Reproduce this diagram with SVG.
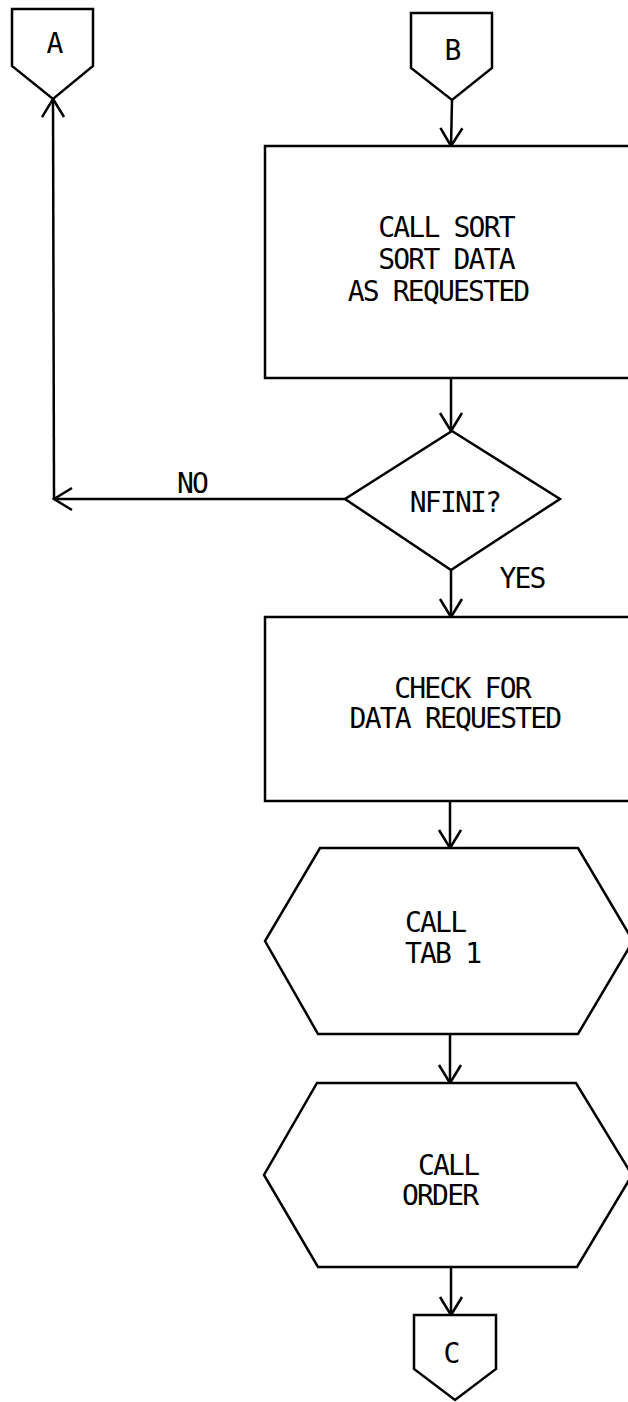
<svg xmlns="http://www.w3.org/2000/svg" width="628" height="1402" viewBox="0 0 628 1402">
<style>
.s{fill:#fff;stroke:#000;stroke-width:2.5;stroke-linejoin:miter}
.c{fill:none;stroke:#000;stroke-width:2.5}
text{font-family:"DejaVu Sans Mono","Liberation Mono",monospace;font-size:28px;letter-spacing:-1.8px;fill:#000}
.m{text-anchor:middle}
</style>
<defs>
<marker id="ah" markerUnits="userSpaceOnUse" markerWidth="24" markerHeight="28" viewBox="-20 -14 24 28" refX="0" refY="0" orient="auto" overflow="visible">
<path d="M-18,-11 L0,0 L-18,11" fill="none" stroke="#000" stroke-width="2.5"/>
</marker>
</defs>
<rect width="628" height="1402" fill="#fff"/>
<g id="connectors">
<path class="c" d="M452,100 L451,146" marker-end="url(#ah)"/>
<path class="c" d="M451,378 L451,431" marker-end="url(#ah)"/>
<path class="c" d="M345,499 L54,499" marker-end="url(#ah)"/>
<path class="c" d="M54,499 L53,99" marker-end="url(#ah)"/>
<path class="c" d="M451,570 L451,617" marker-end="url(#ah)"/>
<path class="c" d="M450,801 L450,848" marker-end="url(#ah)"/>
<path class="c" d="M450,1034 L450,1083" marker-end="url(#ah)"/>
<path class="c" d="M451,1267 L451,1315" marker-end="url(#ah)"/>
<text class="m" x="192" y="493">NO</text>
<text class="m" x="522" y="588">YES</text>
</g>
<g id="connA">
<polygon class="s" points="12,9 93,9 93,66 53,99 12,66"/>
<text class="m" x="54" y="53">A</text>
</g>
<g id="connB">
<polygon class="s" points="411,13 492,13 492,68 452,100 411,68"/>
<text class="m" x="452" y="60">B</text>
</g>
<g id="sort">
<rect class="s" x="265" y="146" width="380" height="232"/>
<text class="m" x="446" y="237">CALL SORT</text>
<text class="m" x="446" y="269">SORT DATA</text>
<text class="m" x="438" y="301">AS REQUESTED</text>
</g>
<g id="nfini">
<polygon class="s" points="452,431 560,499 451,570 345,499"/>
<text class="m" x="455" y="512">NFINI?</text>
</g>
<g id="check">
<rect class="s" x="265" y="617" width="380" height="184"/>
<text class="m" x="462" y="698">CHECK FOR</text>
<text class="m" x="455" y="728">DATA REQUESTED</text>
</g>
<g id="tab1">
<polygon class="s" points="320,848 578,848 633,941 578,1034 318,1034 265,941"/>
<text x="405" y="932">CALL</text>
<text x="405" y="963">TAB 1</text>
</g>
<g id="order">
<polygon class="s" points="317,1083 576,1083 632,1175 577,1267 318,1267 264,1175"/>
<text x="418" y="1175">CALL</text>
<text x="402" y="1205">ORDER</text>
</g>
<g id="connC">
<polygon class="s" points="414,1315 496,1315 496,1369 455,1400 414,1369"/>
<text class="m" x="451" y="1363">C</text>
</g>
</svg>
